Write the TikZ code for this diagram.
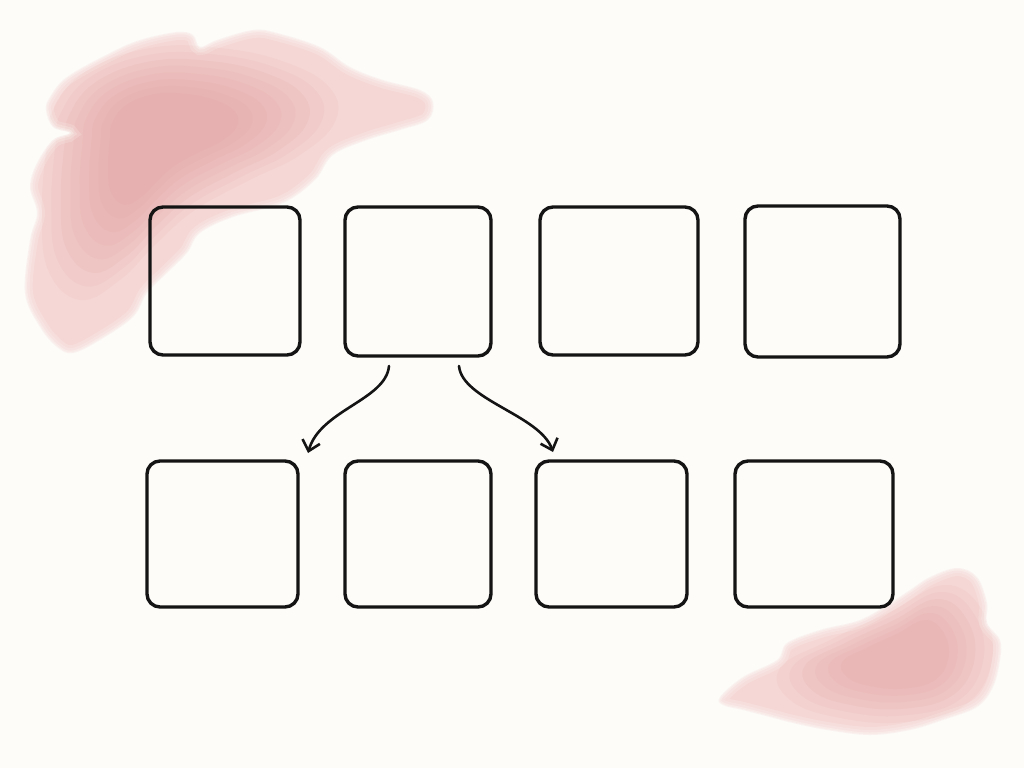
\documentclass[tikz,border=0pt]{standalone}
\usetikzlibrary{arrows.meta}
\definecolor{paper}{RGB}{253,252,249}
\definecolor{washlight}{RGB}{245,216,214}
\definecolor{washdark}{RGB}{226,155,155}
\definecolor{ink}{RGB}{20,20,20}
\tikzset{
  box/.style={draw=ink, line width=3.4pt, rounded corners=13pt, inner sep=0pt, outer sep=0pt},
  flow/.style={draw=ink, line width=2.6pt, line cap=round, -{Straight Barb[length=10pt,width=18pt,line width=2.6pt]}},
  layer/.style={washdark, opacity=0.11},
}
\begin{document}
\begin{tikzpicture}[x=1pt,y=-1pt]
\useasboundingbox (0,0) rectangle (1024,768);
\fill[paper] (0,0) rectangle (1024,768);

% top-left watercolour wash
\def\blobA{plot[smooth cycle, tension=0.6] coordinates {(50,97) (67,77) (110,53) (140,40) (177,32) (193,35) (200,47) (217,40) (253,30) (277,33) (320,47) (350,67) (383,80) (420,90) (433,102) (428,120) (400,130) (367,140) (333,155) (315,180) (283,203) (233,217) (200,233) (187,253) (167,273) (147,293) (133,317) (100,340) (73,353) (57,347) (40,327) (25,293) (30,240) (37,213) (30,187) (37,163) (53,140) (70,133) (53,127) (46,110)}}
\def\coreA{plot[smooth cycle, tension=0.7] coordinates {(52,112) (85,72) (150,48) (220,48) (285,62) (330,88) (335,122) (300,155) (250,180) (195,210) (155,245) (120,280) (80,300) (48,270) (42,210) (46,150)}}
\fill[washlight] \blobA;
\begin{scope}
  \clip \blobA;
  \foreach \s in {1.0,0.92,0.84,0.76,0.68,0.6,0.52,0.44}
    \fill[layer, scale around={\s:(160,130)}] \coreA;
\end{scope}
\draw[paper, line width=16pt, opacity=0.18] \blobA;
\draw[paper, line width=10pt, opacity=0.22] \blobA;
\draw[paper, line width=5pt, opacity=0.3] \blobA;
\draw[paper, line width=2pt, opacity=0.4] \blobA;

% bottom-right watercolour wash
\def\blobB{plot[smooth cycle, tension=0.6] coordinates {(720,697) (743,677) (777,660) (787,643) (820,630) (860,620) (890,603) (910,590) (930,577) (957,568) (977,577) (987,603) (987,623) (1000,640) (1000,660) (993,687) (977,707) (943,720) (910,730) (870,735) (827,730) (793,723) (770,717) (743,710) (723,705)}}
\def\coreB{plot[smooth cycle, tension=0.7] coordinates {(780,668) (830,640) (890,612) (945,585) (982,610) (992,660) (965,705) (905,722) (840,718) (790,700)}}
\fill[washlight] \blobB;
\begin{scope}
  \clip \blobB;
  \foreach \s in {1.0,0.9,0.8,0.7,0.6,0.5}
    \fill[layer, scale around={\s:(905,655)}] \coreB;
\end{scope}
\draw[paper, line width=16pt, opacity=0.18] \blobB;
\draw[paper, line width=10pt, opacity=0.22] \blobB;
\draw[paper, line width=5pt, opacity=0.3] \blobB;
\draw[paper, line width=2pt, opacity=0.4] \blobB;

% boxes
\node[box, minimum width=150pt, minimum height=148pt] (b1) at (225,281) {};
\node[box, minimum width=146pt, minimum height=149pt] (b2) at (418,281.5) {};
\node[box, minimum width=158pt, minimum height=148pt] (b3) at (619,281) {};
\node[box, minimum width=155pt, minimum height=151pt] (b4) at (822.5,281.5) {};
\node[box, minimum width=151pt, minimum height=146pt] (b5) at (222.5,534) {};
\node[box, minimum width=146pt, minimum height=146pt] (b6) at (418,534) {};
\node[box, minimum width=151pt, minimum height=146pt] (b7) at (611.5,534) {};
\node[box, minimum width=158pt, minimum height=146pt] (b8) at (814,534) {};

% connectors
\coordinate (s1) at ([xshift=-29pt,yshift=-10pt]b2.south);
\coordinate (e1) at ([xshift=10pt,yshift=8pt]b5.north east);
\coordinate (s2) at ([xshift=41pt,yshift=-10pt]b2.south);
\coordinate (e2) at ([xshift=17pt,yshift=9pt]b7.north west);
\draw[flow] (s1) .. controls +(-3,34) and +(12,-43) .. (e1);
\draw[flow] (s2) .. controls +(3,34) and +(-13,-37) .. (e2);
\end{tikzpicture}
\end{document}
